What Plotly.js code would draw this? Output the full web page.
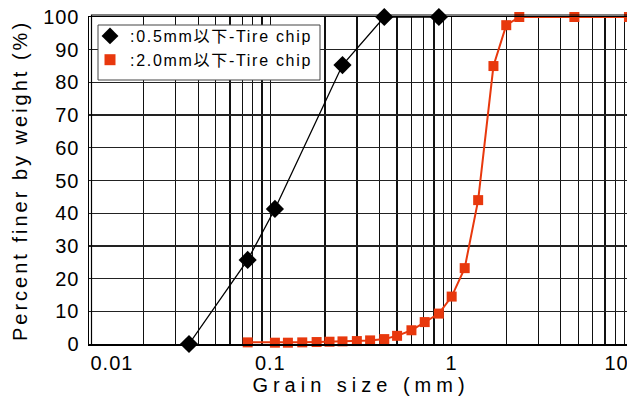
<!DOCTYPE html>
<html>
<head>
<meta charset="utf-8">
<script src="https://cdn.plot.ly/plotly-3.0.1.min.js"></script>
<style>
  html, body { margin: 0; padding: 0; overflow: hidden; background: #fff; }
  #chart { width: 640px; height: 396px; }
  .xtitle { letter-spacing: 5px; }
  .ytitle { letter-spacing: 3px; }
  .legendtext { letter-spacing: 1.7px; }
  .xtick text, .ytick text { letter-spacing: 1px; }
</style>
</head>
<body>
<div id="chart"></div>
<script>
// Particle size distribution of two tire chip gradings
const fineLabel = ':0.5mm以下-Tire chip';
const coarseLabel = ':2.0mm以下-Tire chip';

// 0.5 mm and under
const fineSize = [0.0356, 0.075, 0.106, 0.25, 0.425, 0.85];
const finePassing = [0, 25.7, 41.3, 85.3, 100, 100];

// 2.0 mm and under
const coarseSize = [0.075, 0.106, 0.125, 0.15, 0.18, 0.212, 0.25, 0.3, 0.355, 0.425,
                    0.5, 0.6, 0.71, 0.85, 1.0, 1.18, 1.4, 1.7, 2.0, 2.36, 4.75, 9.5];
const coarsePassing = [0.5, 0.4, 0.4, 0.5, 0.6, 0.7, 0.8, 0.9, 1.1, 1.5,
                       2.5, 4.2, 6.7, 9.3, 14.5, 23.2, 44, 85, 97.5, 100, 100, 100];

const decades = [0.01, 0.1, 1, 10];
// end labels are padded so they sit inside the plot edges
const pad = n => '\u00a0'.repeat(n);
const decadeText = [pad(7) + '0.01', '0.1', '1', '10' + pad(5)];
const yTickVals = [0, 10, 20, 30, 40, 50, 60, 70, 80, 90, 100];

const xTitle = 'Grain size (mm)';
const yTitle = pad(2) + 'Percent finer by weight (%)';

const red = '#E8380D';
const font = 'Liberation Sans, Arial, Noto Sans CJK JP, sans-serif';

// grid at every 1..9 step of each decade; only decade lines are labelled
const xGridVals = [], xGridText = [];
decades.forEach((d, i) => {
  xGridVals.push(d); xGridText.push(decadeText[i]);
  if (i < decades.length - 1) {
    for (let k = 2; k <= 9; k++) { xGridVals.push(+(d * k).toPrecision(3)); xGridText.push(''); }
  }
});

const W = 640, H = 396;
const M = { l: 89, r: 7, t: 17, b: 52 };
const pw = W - M.l - M.r, ph = H - M.t - M.b;
const px = v => v / pw, py = v => v / ph;

const traces = [
  { x: fineSize, y: finePassing, mode: 'lines+markers', showlegend: false, cliponaxis: false,
    line: { color: '#000', width: 1.3 },
    marker: { symbol: 'diamond', size: 14, color: '#000' } },
  { x: coarseSize, y: coarsePassing, mode: 'lines+markers', showlegend: false, cliponaxis: false,
    line: { color: red, width: 2 },
    marker: { symbol: 'square', size: 10, color: red } },
  { x: [null], y: [null], mode: 'markers', name: fineLabel,
    marker: { symbol: 'diamond', size: 13, color: '#000' } },
  { x: [null], y: [null], mode: 'markers', name: coarseLabel,
    marker: { symbol: 'square', size: 11, color: red } }
];

const layout = {
  width: W, height: H,
  margin: M,
  paper_bgcolor: '#fff', plot_bgcolor: '#fff',
  font: { family: font, color: '#000', size: 19 },
  showlegend: true,
  legend: {
    x: px(1), y: 1 - py(2), xanchor: 'left', yanchor: 'top',
    bgcolor: 'rgba(0,0,0,0)', borderwidth: 0,
    font: { family: font, size: 16, color: '#000' },
    itemwidth: 30, tracegroupgap: 0
  },
  xaxis: {
    type: 'log', range: [-2, 1],
    tickmode: 'array', tickvals: xGridVals, ticktext: xGridText,
    ticks: '', ticklabelstandoff: 0, ticklabeloverflow: 'allow',
    showgrid: true, gridcolor: '#111', gridwidth: 1.3,
    showline: true, linecolor: '#000', linewidth: 1.5, mirror: true,
    zeroline: false,
    tickfont: { size: 20 },
    title: { text: xTitle, font: { size: 20 }, standoff: 9 },
    automargin: false
  },
  yaxis: {
    range: [0, 100],
    tickmode: 'array', tickvals: yTickVals,
    ticks: '', ticklabelstandoff: 4,
    showgrid: true, gridcolor: '#222', gridwidth: 1.3,
    showline: true, linecolor: '#000', linewidth: 1.5, mirror: true,
    zeroline: false,
    tickfont: { size: 20 },
    title: { text: yTitle, font: { size: 20 }, standoff: 10 },
    automargin: false
  },
  shapes: [
    // inner frame line of the plot area
    { type: 'rect', xref: 'paper', yref: 'paper', layer: 'above',
      x0: px(2.5), x1: 1 + px(3), y0: -py(1.5), y1: 1 + py(2),
      line: { color: '#000', width: 1.2 } },
    // legend box
    { type: 'rect', xref: 'paper', yref: 'paper', layer: 'above',
      x0: px(9), x1: px(231), y0: 1 - py(63), y1: 1 - py(8),
      fillcolor: '#fff', line: { color: '#444', width: 1 } }
  ]
};

Plotly.newPlot('chart', traces, layout, { staticPlot: true, displayModeBar: false });
</script>
</body>
</html>
